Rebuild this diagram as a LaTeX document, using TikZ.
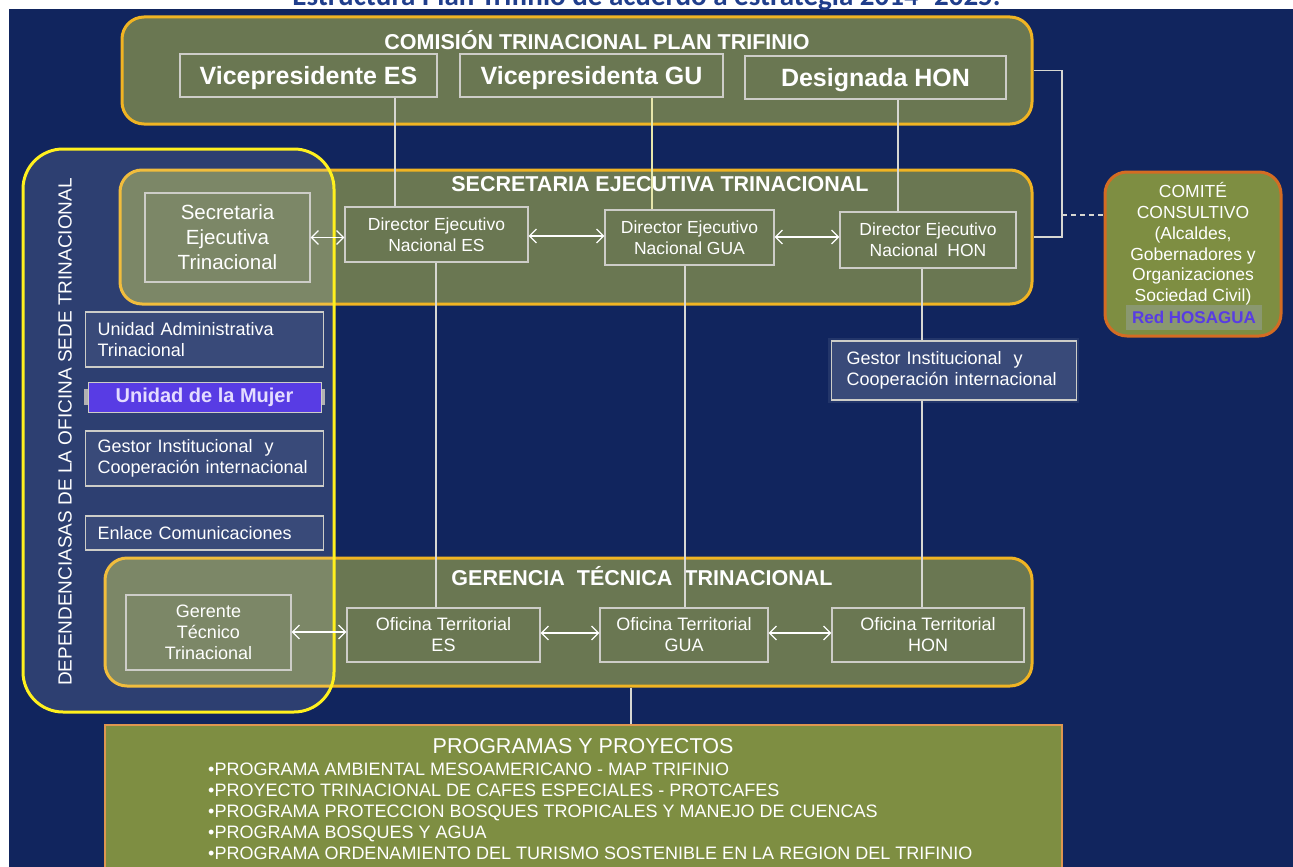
\documentclass[tikz,border=0pt]{standalone}
\usepackage{fontspec}
\setmainfont{Liberation Sans}
\newfontfamily\titlefont{Carlito}
\usetikzlibrary{arrows.meta}
\definecolor{navy}{RGB}{17,37,94}
\definecolor{olive}{RGB}{106,119,82}
\definecolor{oliveb}{RGB}{126,142,66}
\definecolor{gold}{RGB}{240,180,35}
\definecolor{yel}{RGB}{255,240,30}
\definecolor{orng}{RGB}{212,108,35}
\definecolor{orng2}{RGB}{222,150,80}
\definecolor{boxline}{RGB}{205,205,200}
\definecolor{purp}{RGB}{88,60,228}
\definecolor{lav}{RGB}{228,220,255}
\definecolor{ttl}{RGB}{32,62,140}
\definecolor{redbg}{RGB}{138,152,112}
\definecolor{conncol}{RGB}{215,215,210}
\definecolor{conny}{RGB}{230,230,170}
\tikzset{
  big/.style={draw=gold, line width=3pt, fill=olive, rounded corners=22pt, inner sep=0pt},
  bigtitle/.style={text=white, font=\fontsize{21.5}{24}\selectfont\bfseries, inner sep=0pt},
  inbox/.style={draw=boxline, line width=1.1pt, text=white, align=center, inner sep=0pt},
  vbox/.style={inbox, font=\fontsize{25}{28}\selectfont\bfseries, text depth=0pt},
  dbox/.style={inbox, font=\fontsize{17.5}{21}\selectfont},
  lbox/.style={draw=boxline, line width=1.1pt, fill=white, fill opacity=0.06, text opacity=1,
    text=white, align=left, inner xsep=12pt, inner ysep=0pt, text width=214pt,
    font=\fontsize{18}{21}\selectfont, anchor=west},
  conn/.style={draw=conncol, line width=1.1pt},
  dbl/.style={draw=white, line width=1.3pt, {Straight Barb[length=7pt,width=14pt]}-{Straight Barb[length=7pt,width=14pt]}},
}
\begin{document}
\begin{tikzpicture}[x=1pt,y=-1pt]
\useasboundingbox (0,0) rectangle (1293,867);
\fill[white] (0,0) rectangle (1293,867);
\fill[navy] (9,9) rectangle (1293,867);
\node[anchor=base, text=ttl, font=\titlefont\fontsize{29}{32}\selectfont\bfseries, inner sep=0pt] (maintitle) at (646.5,5.5) {Estructura Plan Trifinio de acuerdo a estrategia 2014- 2025.};

% big boxes
\node[big, minimum width=910pt, minimum height=107pt] (com) at (577,70.5) {};
\node[bigtitle] (comt) at (597,40) {COMISIÓN TRINACIONAL PLAN TRIFINIO};
\node[big, minimum width=912pt, minimum height=134pt] (sec) at (576,237) {};
\node[bigtitle] (sect) at (660,184) {SECRETARIA EJECUTIVA TRINACIONAL};
\node[big, minimum width=927pt, minimum height=128pt] (ger) at (568.5,622) {};
\node[bigtitle] (gert) at (642,576) {GERENCIA\ \ TÉCNICA\ \ TRINACIONAL};

% dependencias overlay
\node[draw=yel, line width=3pt, fill=white, fill opacity=0.12, rounded corners=40pt,
  minimum width=311pt, minimum height=563pt, inner sep=0pt] (dep) at (178.5,430.5) {};
\node[rotate=90, text=white, font=\fontsize{19}{19}\selectfont, inner sep=0pt] (dept) at (65,432)
  {DEPENDENCIASAS DE LA OFICINA SEDE TRINACIONAL};

% comision sub-boxes
\node[vbox, minimum width=257pt, minimum height=43pt] (ves) at (308.5,75.5) {Vicepresidente ES};
\node[vbox, minimum width=263pt, minimum height=43pt] (vgu) at (591.5,75.5) {Vicepresidenta GU};
\node[vbox, minimum width=261pt, minimum height=43pt] (dhn) at (875.5,77.5) {Designada HON};

% secretaria sub-boxes
\node[inbox, font=\fontsize{20.5}{25}\selectfont, minimum width=165pt, minimum height=89pt] (set) at (227.5,237.5) {Secretaria\\Ejecutiva\\Trinacional};
\node[dbox, minimum width=183pt, minimum height=55pt] (des) at (436.5,234.5) {Director Ejecutivo\\Nacional ES};
\node[dbox, minimum width=169pt, minimum height=55pt] (dgu) at (689.5,237.5) {Director Ejecutivo\\Nacional GUA};
\node[dbox, minimum width=176pt, minimum height=56pt] (dho) at (928,240) {Director Ejecutivo\\Nacional\ \ HON};

% left dependency boxes
\node[lbox, minimum height=55pt] (uat) at (85,339.5) {Unidad Administrativa\\Trinacional};
\node[fill=gray!60, minimum width=241pt, minimum height=16pt, inner sep=0pt] (umbar) at (204.5,397) {};
\node[draw=boxline, line width=0.8pt, fill=purp, text=lav, font=\fontsize{20}{22}\selectfont\bfseries,
  minimum width=233pt, minimum height=30pt, inner sep=0pt] (um) at (204.5,397) {Unidad de la Mujer};
\node[lbox, minimum height=55pt] (gic) at (85,458.5) {Gestor Institucional\ \ y\\Cooperación internacional};
\node[lbox, minimum height=34pt] (enl) at (85,533) {Enlace Comunicaciones};

% right gestor box
\node[fill=white, fill opacity=0.08, minimum width=251pt, minimum height=65pt, inner sep=0pt] (girh) at (953.5,370.5) {};
\node[lbox, fill opacity=0.10, inner xsep=15pt, text width=215pt, minimum height=59pt] (gir) at (831,370.5) {Gestor Institucional\ \ y\\Cooperación internacional};

% gerencia sub-boxes
\node[inbox, font=\fontsize{18}{21}\selectfont, minimum width=165pt, minimum height=75pt] (gtt) at (208.5,632.5) {Gerente\\Técnico\\Trinacional};
\node[dbox, font=\fontsize{18}{21}\selectfont, minimum width=193pt, minimum height=54pt] (oes) at (443.5,635) {Oficina Territorial\\ES};
\node[dbox, font=\fontsize{18}{21}\selectfont, minimum width=168pt, minimum height=54pt] (ogu) at (684,635) {Oficina Territorial\\GUA};
\node[dbox, font=\fontsize{18}{21}\selectfont, minimum width=192pt, minimum height=54pt] (oho) at (928,635) {Oficina Territorial\\HON};

% comite consultivo
\node[draw=orng, line width=3pt, fill=oliveb, rounded corners=22pt, minimum width=176pt, minimum height=164pt, inner sep=0pt] (cc) at (1193,254) {};
\node[text=white, align=center, font=\fontsize{17.5}{20.8}\selectfont, inner sep=0pt] (cct) at (1193,244)
  {COMITÉ\\CONSULTIVO\\(Alcaldes,\\Gobernadores y\\Organizaciones\\Sociedad Civil)};
\node[fill=redbg, text=purp, font=\fontsize{17}{19}\selectfont\bfseries, minimum width=136pt, minimum height=25pt, inner sep=0pt] (red) at (1194,317.5) {Red HOSAGUA};

% programas
\node[draw=orng2, line width=2.5pt, fill=oliveb, minimum width=957pt, minimum height=150pt, inner sep=0pt] (prog) at (583.5,800) {};
\node[text=white, font=\fontsize{21.5}{24}\selectfont, inner sep=0pt] (progt) at (583,746) {PROGRAMAS Y PROYECTOS};
\node[text=white, align=left, anchor=north west, font=\fontsize{18}{21}\selectfont, inner sep=0pt] (progl) at (208,762.5)
  {•PROGRAMA AMBIENTAL MESOAMERICANO - MAP TRIFINIO\\
   •PROYECTO TRINACIONAL DE CAFES ESPECIALES - PROTCAFES\\
   •PROGRAMA PROTECCION BOSQUES TROPICALES Y MANEJO DE CUENCAS\\
   •PROGRAMA BOSQUES Y AGUA\\
   •PROGRAMA ORDENAMIENTO DEL TURISMO SOSTENIBLE EN LA REGION DEL TRIFINIO};

% connectors
\coordinate (x1) at (395,0);
\coordinate (x2) at (652,0);
\coordinate (x3) at (898,0);
\coordinate (x4) at (436,0);
\coordinate (x5) at (685,0);
\coordinate (x6) at (922,0);
\coordinate (x7) at (631,0);
\coordinate (xj) at (1062,0);
\coordinate (dj) at (1062,215);
\draw[conn] (ves.south -| x1) -- (des.north -| x1);
\draw[conn, draw=conny] (vgu.south -| x2) -- (dgu.north -| x2);
\draw[conn] (dhn.south -| x3) -- (dho.north -| x3);
\draw[conn] (des.south -| x4) -- (oes.north -| x4);
\draw[conn] (dgu.south -| x5) -- (ogu.north -| x5);
\draw[conn] (dho.south -| x6) -- (gir.north -| x6);
\draw[conn] (gir.south -| x6) -- (oho.north -| x6);
\draw[conn] (ger.south -| x7) -- (prog.north -| x7);
\draw[conn] (com.east) -- (com.east -| xj) |- (sec.east);
\draw[conn, dash pattern=on 5pt off 4pt] (dj) -- (dj -| cc.west);

% double arrows
\draw[dbl] (set.east) -- (set.east -| des.west);
\draw[dbl] (des.east |- 0,236) -- (dgu.west |- 0,236);
\draw[dbl] (dgu.east |- 0,237) -- (dho.west |- 0,237);
\draw[dbl] (gtt.east |- 0,632) -- (oes.west |- 0,632);
\draw[dbl] (oes.east |- 0,633) -- (ogu.west |- 0,633);
\draw[dbl] (ogu.east |- 0,633) -- (oho.west |- 0,633);
\end{tikzpicture}
\end{document}
